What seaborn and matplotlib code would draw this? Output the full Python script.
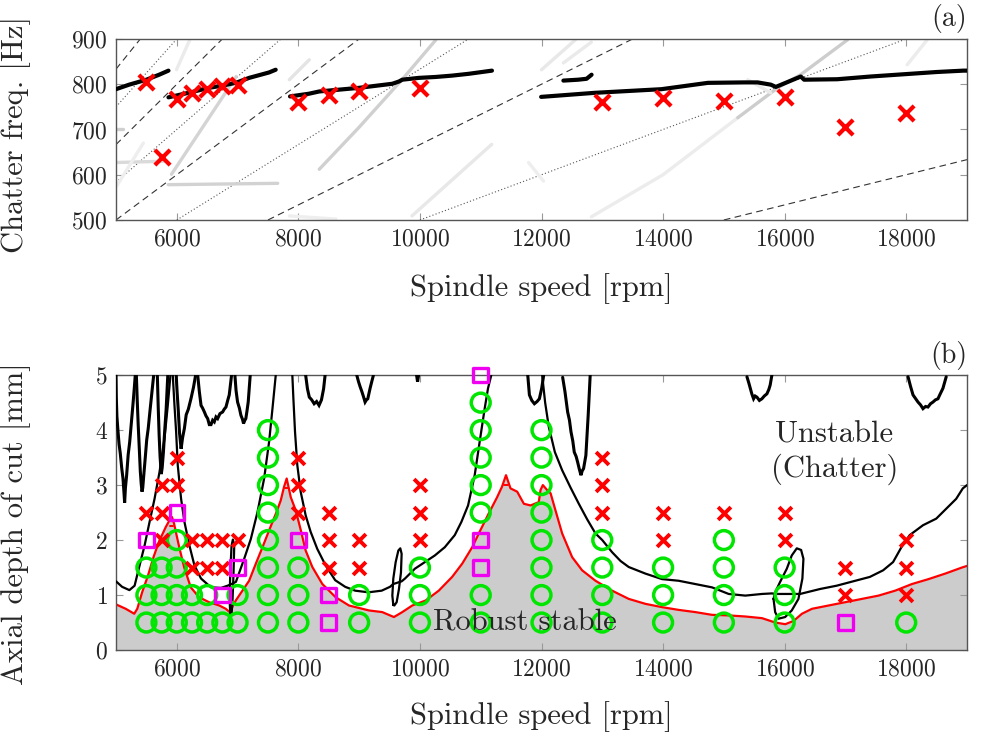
import matplotlib
matplotlib.use('Agg')
import matplotlib.pyplot as plt
import seaborn as sns
import pandas as pd

# ---------------- panel (a): chatter frequencies ----------------
meas_rpm = [5500, 5750, 6000, 6250, 6500, 6750, 7000, 8000, 8500, 9000, 10000,
            13000, 14000, 15000, 16000, 17000, 18000]
meas_hz = [805, 640, 767, 781, 789, 795, 799, 760, 777, 786, 792,
           760, 770, 762, 771, 705, 737]

# predicted chatter frequency branches (black)
pred_rpm_1 = [5000, 5216, 5501, 5710, 5863]
pred_hz_1 = [789, 799, 810, 821, 830]
pred_rpm_2 = [5863, 6258, 6532, 6751, 6970, 7190, 7409, 7518, 7627]
pred_hz_2 = [771, 783, 792, 797, 803, 814, 822, 826, 832]
pred_rpm_3 = [7863, 8175, 8344, 9000, 9546, 9655, 9710, 9983, 10256, 10530, 10803, 11185]
pred_hz_3 = [773, 779, 784, 792, 801, 806, 810, 814, 816, 819, 823, 830]
pred_rpm_4 = [12360, 12606, 12742, 12824]
pred_hz_4 = [808, 810, 812, 821]
pred_rpm_5 = [11994, 12879, 13972, 14737, 15338, 15555, 15773, 15855, 16265, 16320,
              16866, 17413, 17959, 18505, 18942, 19000]
pred_hz_5 = [772, 781, 789, 803, 804, 804, 799, 794, 817, 810, 811, 817, 822, 827, 830, 830]

# faint simulated ridges (rpm, Hz, grey level)
ridges = [
    ([5860, 7660], [578, 581], '#d2d2d2'),
    ([5000, 5830], [627, 630], '#dadada'),
    ([5000, 5120], [702, 702], '#cfcfcf'),
    ([5913, 6500, 6978], [601, 720, 817], '#d4d4d4'),
    ([8344, 9000, 9705, 10262], [612, 705, 810, 898], '#d0d0d0'),
    ([9869, 11180], [509, 667], '#e8e8e8'),
    ([12820, 14000, 15229], [507, 600, 726], '#ececec'),
    ([15229, 15885, 16262, 17033], [726, 792, 821, 898], '#cdcdcd'),
    ([12000, 12557], [832, 898], '#e8e8e8'),
    ([12360, 12820], [847, 893], '#eaeaea'),
    ([18016, 18344], [843, 898], '#ececec'),
    ([7852, 8180], [810, 854], '#e4e4e4'),
    ([7852, 8617], [509, 502], '#eeeeee'),
    ([5995, 6213], [832, 898], '#ebebeb'),
    ([5011, 5450], [575, 670], '#eeeeee'),
    ([11787, 12033], [627, 586], '#eeeeee'),
    ([15393, 15770], [810, 781], '#eaeaea'),
]

# harmonic orders k of f = k * n / 60
dashed_orders = [2, 4, 6, 8, 10]
dotted_orders = [3, 5, 7, 9]

# ---------------- panel (b): stability ----------------
test_rpm = [5500, 5750, 6000, 6250, 6500, 6750, 7000, 7500, 8000, 8500, 9000,
            10000, 11000, 12000, 13000, 14000, 15000, 16000, 17000, 18000]
# result per 0.5 mm step from 0.5 mm upward: o stable, x chatter, s marginal
test_codes = ['ooosx', 'oooxxx', 'oooosxx', 'ooxx', 'ooxx', 'osxx', 'oosx', 'oooooooo',
              'ooosxxx', 'ssxxx', 'ooxx', 'oooxxx', 'oossooooos', 'oooooooo',
              'ooooxxx', 'oooxx', 'oooox', 'oooxx', 'sxx', 'oxxx']

# robust stability boundary (red)
robust_rpm = [5000, 5160, 5300, 5350, 5430, 5525, 5620, 5710, 5820, 5880, 5920, 5955, 6040,
              6120, 6230, 6367, 6530, 6700, 6805, 6870, 6970, 7080, 7190, 7300, 7410, 7520,
              7630, 7710, 7765, 7808, 7875, 7957, 8040, 8120, 8230, 8395, 8614, 8833, 9162,
              9380, 9572, 9710, 9874, 10093, 10310, 10530, 10695, 10860, 10995, 11130, 11270,
              11350, 11416, 11490, 11600, 11710, 11820, 11955, 11984, 12022, 12093, 12150,
              12230, 12340, 12504, 12668, 12888, 13161, 13435, 13710, 13983, 14257, 14531,
              14805, 15079, 15353, 15627, 15846, 16011, 16148, 16285, 16450, 16723, 16997,
              17271, 17545, 17819, 18093, 18367, 18641, 18915, 19000]
robust_depth = [0.83, 0.75, 0.66, 0.75, 1.05, 1.35, 1.70, 1.98, 2.24, 2.36, 2.42, 2.30, 1.87,
                1.51, 1.14, 0.96, 0.87, 0.81, 0.75, 0.69, 0.90, 1.08, 1.26, 1.57, 1.87, 2.18,
                2.48, 2.72, 2.97, 3.12, 2.78, 2.54, 2.18, 1.81, 1.51, 1.20, 0.96, 0.81, 0.72,
                0.69, 0.60, 0.69, 0.81, 0.90, 1.08, 1.33, 1.57, 1.87, 2.18, 2.48, 2.78,
                2.97, 3.18, 2.94, 2.88, 2.66, 2.63, 2.69, 2.91, 3.00, 2.91, 2.85,
                2.54, 2.12, 1.69, 1.45, 1.26, 1.08, 0.93, 0.84, 0.78, 0.73, 0.69,
                0.64, 0.63, 0.61, 0.58, 0.50, 0.47, 0.53, 0.66, 0.75, 0.81, 0.87,
                0.93, 0.99, 1.08, 1.20, 1.29, 1.39, 1.50, 1.53]
peak_rpm = [5920, 7808, 11416, 12022]
peak_depth = [2.42, 3.12, 3.18, 3.00]

# nominal stability lobes (thin black)
lobes = [
    ([5000, 5100, 5220, 5306, 5388, 5470, 5552, 5634, 5716, 5798, 5852, 5896],
     [1.25, 1.15, 1.09, 1.17, 1.54, 1.90, 2.33, 2.75, 3.24, 3.85, 4.45, 5.0]),
    ([5934, 5962, 5989, 6016, 6071, 6126, 6208, 6290, 6399, 6563, 6727, 6836, 6900, 6973,
      7109, 7218, 7328, 7437, 7519, 7574, 7628],
     [5.0, 4.45, 3.97, 3.36, 2.75, 2.33, 1.90, 1.54, 1.30, 1.14, 1.13, 1.17, 1.20, 1.24,
      1.66, 2.02, 2.51, 3.12, 3.79, 4.39, 5.0]),
    ([7901, 7918, 7945, 7983, 8038, 8120, 8202, 8311, 8448, 8606, 8770, 8934, 9153, 9371,
      9508, 9560, 9700, 9754, 9918, 10082, 10245, 10409, 10573, 10682, 10792, 10901, 10983,
      11065, 11120, 11174],
     [5.0, 4.58, 3.97, 3.36, 2.88, 2.45, 2.15, 1.84, 1.54, 1.27, 1.15, 1.08, 1.05, 1.08,
      1.15, 1.20, 1.25, 1.30, 1.48, 1.60, 1.72, 1.87, 2.09, 2.33, 2.63, 3.18, 3.79,
      4.39, 4.76, 5.0]),
    ([12011, 12060, 12120, 12220, 12340, 12480, 12614, 12750, 12888, 13000, 13161, 13300,
      13435, 13710, 13983, 14257, 14531, 14805, 15079, 15353, 15627, 15792, 15850, 16254,
      16582, 16855, 17128, 17402, 17620, 17784, 17921, 18057, 18276, 18494, 18658, 18822,
      18931, 19000],
     [5.0, 4.5, 4.06, 3.6, 3.27, 2.95, 2.66, 2.38, 2.12, 2.0, 1.78, 1.62, 1.51, 1.39, 1.29,
      1.26, 1.20, 1.14, 1.02, 0.99, 1.02, 1.03, 1.02, 1.02, 1.11, 1.17, 1.25, 1.33, 1.45,
      1.60, 1.87, 2.09, 2.27, 2.39, 2.57, 2.75, 2.94, 3.0]),
]
# small closed loops on the nominal lobes
loops = [
    ([6880, 6869, 6880, 6901, 6923, 6945, 6934, 6918, 6901, 6880],
     [0.63, 0.93, 1.42, 1.90, 2.01, 1.90, 1.42, 0.93, 0.64, 0.63]),
    ([9562, 9546, 9562, 9601, 9645, 9677, 9699, 9688, 9655, 9617, 9579, 9562],
     [0.82, 0.99, 1.30, 1.60, 1.81, 1.85, 1.75, 1.41, 1.11, 0.87, 0.81, 0.82]),
    ([15817, 15844, 15899, 16008, 16117, 16227, 16292, 16309, 16271, 16200, 16117, 16036,
      15926, 15844, 15817],
     [0.93, 0.69, 0.57, 0.60, 0.72, 0.93, 1.30, 1.66, 1.82, 1.85, 1.72, 1.48, 1.24, 1.05,
      0.93]),
]

# noisy upper lobes (thick black)
upper = [
    ([5000, 5005, 5015, 5030, 5050, 5070, 5095, 5115, 5135, 5142, 5155, 5175, 5200, 5225,
      5250, 5280, 5300, 5317],
     [5.0, 4.6, 4.25, 4.02, 3.75, 3.58, 3.3, 3.12, 2.8, 2.68, 2.95, 3.18, 3.55, 3.78, 4.1,
      4.48, 4.75, 5.0]),
    ([5335, 5350, 5365, 5385, 5400, 5415, 5428, 5440, 5460, 5480, 5505, 5530, 5560, 5590,
      5620],
     [5.0, 4.52, 4.1, 3.62, 3.25, 3.02, 2.88, 2.95, 3.22, 3.48, 3.82, 4.03, 4.36, 4.68, 5.0]),
    ([5680, 5695, 5710, 5725, 5745, 5760, 5780, 5800, 5825, 5852],
     [5.0, 4.4, 3.9, 3.52, 3.2, 3.32, 3.6, 3.97, 4.38, 5.0]),
    ([5990, 6005, 6025, 6045, 6071, 6095, 6125, 6155, 6190, 6235, 6275, 6310],
     [5.0, 4.7, 4.35, 3.95, 3.66, 3.86, 4.03, 4.28, 4.38, 4.58, 4.78, 5.0]),
    ([6344, 6371, 6399, 6425, 6454, 6480, 6508, 6535, 6563, 6590, 6617, 6645, 6672, 6710,
      6754, 6780, 6809, 6840, 6863, 6901],
     [5.0, 4.7, 4.45, 4.40, 4.33, 4.26, 4.21, 4.10, 4.10, 4.18, 4.15, 4.24, 4.21, 4.30,
      4.33, 4.38, 4.42, 4.55, 4.64, 5.0]),
    ([6956, 6975, 7000, 7030, 7055, 7080, 7098, 7120, 7136, 7155, 7175, 7208],
     [5.0, 4.72, 4.51, 4.40, 4.27, 4.20, 4.12, 4.18, 4.21, 4.35, 4.51, 5.0]),
    ([8120, 8150, 8180, 8220, 8260, 8300, 8340, 8380, 8415, 8440],
     [5.0, 4.75, 4.60, 4.55, 4.48, 4.52, 4.45, 4.55, 4.75, 5.0]),
    ([8961, 8990, 9016, 9045, 9071, 9098, 9120, 9142, 9180, 9207, 9235],
     [5.0, 4.88, 4.79, 4.70, 4.61, 4.51, 4.55, 4.57, 4.76, 4.88, 5.0]),
    ([9945, 9961, 9978], [5.0, 4.88, 5.0]),
    ([11774, 11801, 11840, 11883, 11927, 11965, 12003, 12036],
     [5.0, 4.64, 4.54, 4.48, 4.52, 4.57, 4.76, 5.0]),
    ([12348, 12386, 12430, 12460, 12485, 12515, 12539, 12570, 12594, 12620, 12649, 12670,
      12692, 12730, 12768, 12801],
     [4.96, 4.70, 4.33, 4.18, 3.97, 3.80, 3.60, 3.52, 3.42, 3.30, 3.18, 3.26, 3.30, 3.54,
      4.27, 5.0]),
    ([15380, 15410, 15435, 15460, 15489, 15515, 15544, 15585, 15626, 15665, 15708, 15740,
      15762, 15790],
     [4.97, 4.86, 4.76, 4.66, 4.57, 4.62, 4.60, 4.54, 4.57, 4.62, 4.66, 4.74, 4.82, 5.0]),
    ([18030, 18070, 18112, 18150, 18194, 18235, 18276, 18318, 18358, 18400, 18440, 18480,
      18522, 18560, 18604, 18658],
     [4.97, 4.80, 4.64, 4.58, 4.51, 4.46, 4.39, 4.43, 4.42, 4.48, 4.51, 4.55, 4.57, 4.66,
      4.76, 4.97]),
]

# ---------------- style ----------------
sns.set_theme(style='ticks', rc={'xtick.direction': 'in', 'ytick.direction': 'in'})
plt.rcParams['font.family'] = ['cmr10', 'DejaVu Serif']
plt.rcParams['mathtext.fontset'] = 'cm'
plt.rcParams['axes.formatter.use_mathtext'] = True
plt.rcParams['axes.unicode_minus'] = False

fig = plt.figure(figsize=(10, 7.35), dpi=100)
ax1 = fig.add_axes([0.116, 0.7007, 0.851, 0.2463])
ax2 = fig.add_axes([0.116, 0.1156, 0.851, 0.374])

red = '#ff0000'
green = '#00e600'
magenta = '#f000f0'
label_fs = 22

# ---- panel (a)
for k in dashed_orders:
    ax1.axline((0, 0), slope=k / 60, color='#333333', lw=0.8, ls=(0, (6, 4)), zorder=1)
for k in dotted_orders:
    ax1.axline((0, 0), slope=k / 60, color='#555555', lw=0.8, ls=(0, (1, 2)), zorder=1)
for r, f, c in ridges:
    ax1.plot(r, f, color=c, lw=2.4, solid_capstyle='round', zorder=1)

for r, f in [(pred_rpm_1, pred_hz_1), (pred_rpm_2, pred_hz_2), (pred_rpm_3, pred_hz_3),
             (pred_rpm_4, pred_hz_4), (pred_rpm_5, pred_hz_5)]:
    sns.lineplot(x=r, y=f, ax=ax1, color='black', lw=3, sort=False, estimator=None, zorder=3)

sns.scatterplot(x=meas_rpm, y=meas_hz, ax=ax1, marker='x', color=red, s=120,
                linewidth=3, zorder=5)

ax1.set_xlim(5000, 19000)
ax1.set_ylim(500, 900)
ax1.set_yticks([500, 600, 700, 800, 900])
ax1.set_xticks(range(6000, 19000, 2000))
ax1.set_xlabel('Spindle speed [rpm]', fontsize=label_fs, labelpad=16)
ax1.set_ylabel('Chatter freq. [Hz]', fontsize=label_fs)
ax1.set_title('(a)', loc='right', fontsize=20, pad=9)

# ---- panel (b)
ax2.fill_between(robust_rpm, 0, robust_depth, color='#cccccc', lw=0, zorder=0)
ax2.plot(robust_rpm, robust_depth, color=red, lw=1.6, zorder=2)
for p, d in zip(peak_rpm, peak_depth):
    ax2.plot([p - 25, p + 25], [d - 0.17, d - 0.17], color=red, lw=1.4, zorder=2)

for r, d in lobes:
    sns.lineplot(x=r, y=d, ax=ax2, color='black', lw=1.6, sort=False, estimator=None, zorder=3)
for r, d in loops:
    ax2.plot(r, d, color='black', lw=1.6, zorder=3)
for r, d in upper:
    ax2.plot(r, d, color='black', lw=2.2, zorder=3, solid_joinstyle='miter')

rows = []
for rpm, code in zip(test_rpm, test_codes):
    for i, c in enumerate(code):
        rows.append({'rpm': rpm, 'depth': 0.5 * (i + 1), 'result': c})
tests = pd.DataFrame(rows)

sns.scatterplot(data=tests[tests.result == 'o'], x='rpm', y='depth', ax=ax2, marker='o',
                s=185, facecolor='none', edgecolor=green, color=green, linewidth=2.5,
                zorder=5, clip_on=False)
sns.scatterplot(data=tests[tests.result == 'x'], x='rpm', y='depth', ax=ax2, marker='x',
                color=red, s=85, linewidth=2.8, zorder=5)
sns.scatterplot(data=tests[tests.result == 's'], x='rpm', y='depth', ax=ax2, marker='s',
                s=110, facecolor='none', edgecolor=magenta, color=magenta, linewidth=2.4,
                zorder=6, clip_on=False)

ax2.text(16820, 3.58, 'Unstable\n(Chatter)', ha='center', va='center', fontsize=label_fs,
         linespacing=1.2, zorder=7)
ax2.text(11720, 0.5, 'Robust stable', ha='center', va='center', fontsize=label_fs, zorder=7)

ax2.set_xlim(5000, 19000)
ax2.set_ylim(0, 5)
ax2.set_xticks(range(6000, 19000, 2000))
ax2.set_yticks([0, 1, 2, 3, 4, 5])
ax2.set_xlabel('Spindle speed [rpm]', fontsize=label_fs, labelpad=15)
ax2.set_ylabel('Axial depth of cut [mm]', fontsize=label_fs)
ax2.set_title('(b)', loc='right', fontsize=20, pad=9)

for ax in (ax1, ax2):
    ax.tick_params(top=True, right=True, direction='in', length=5, width=0.8,
                   color='#999999', labelsize=17, pad=6)
    for sp in ax.spines.values():
        sp.set_color('#555555')
        sp.set_linewidth(1.0)
ax1.yaxis.set_label_coords(-0.1, 0.47)
ax2.yaxis.set_label_coords(-0.1, 0.46)

fig.savefig('out.png', dpi=100)
